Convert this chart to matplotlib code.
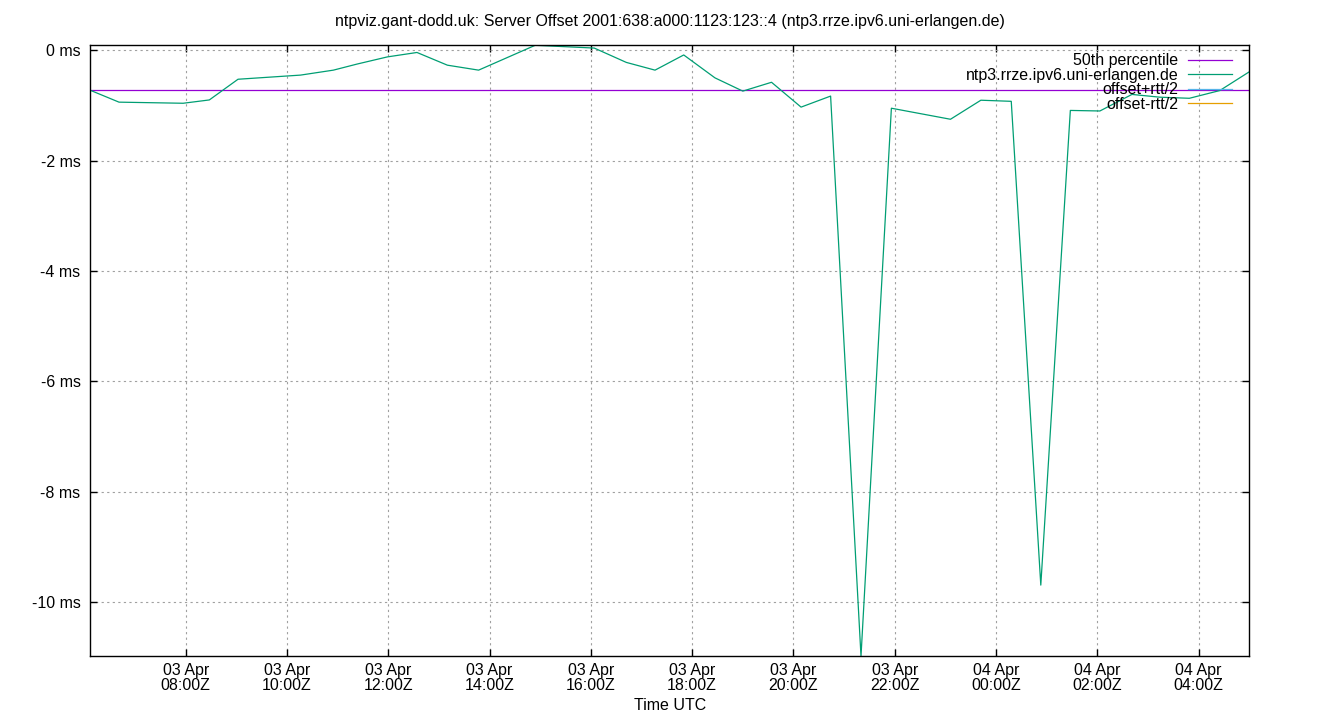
import pandas as pd
import matplotlib
matplotlib.use('Agg')
import matplotlib.pyplot as plt
import matplotlib.dates as mdates
from matplotlib.ticker import FuncFormatter, MultipleLocator

plt.rcParams['font.family'] = ['Liberation Sans', 'DejaVu Sans']
FS = 11.5

# dados (offset em ms)
times = [
    "2025-04-03 06:07", "2025-04-03 06:41", "2025-04-03 07:57", "2025-04-03 08:28",
    "2025-04-03 09:02", "2025-04-03 10:16", "2025-04-03 10:55", "2025-04-03 11:23",
    "2025-04-03 11:59", "2025-04-03 12:34", "2025-04-03 13:10", "2025-04-03 13:47",
    "2025-04-03 14:54", "2025-04-03 16:04", "2025-04-03 16:42", "2025-04-03 17:16",
    "2025-04-03 17:50", "2025-04-03 18:27", "2025-04-03 19:00", "2025-04-03 19:34",
    "2025-04-03 20:09", "2025-04-03 20:44", "2025-04-03 21:20", "2025-04-03 21:56",
    "2025-04-03 23:06", "2025-04-03 23:42", "2025-04-04 00:18", "2025-04-04 00:53",
    "2025-04-04 01:28", "2025-04-04 02:03", "2025-04-04 02:41", "2025-04-04 03:14",
    "2025-04-04 03:49", "2025-04-04 04:25", "2025-04-04 05:00",
]
offsets = [
    -0.725, -0.94, -0.96, -0.90,
    -0.525, -0.45, -0.36, -0.25,
    -0.12, -0.04, -0.27, -0.36,
    0.09, 0.04, -0.22, -0.36,
    -0.085, -0.50, -0.74, -0.58,
    -1.03, -0.83, -10.98, -1.05,
    -1.25, -0.905, -0.925, -9.69,
    -1.09, -1.10, -0.80, -0.85,
    -0.87, -0.73, -0.39,
]
percentile_50 = -0.725

server = "ntp3.rrze.ipv6.uni-erlangen.de"
title = "ntpviz.gant-dodd.uk: Server Offset 2001:638:a000:1123:123::4 (ntp3.rrze.ipv6.uni-erlangen.de)"

t = pd.to_datetime(times)

fig = plt.figure(figsize=(13.4, 7.2), dpi=100)
ax = fig.add_axes([90.3 / 1340, 1 - 656.3 / 720, (1249.3 - 90.3) / 1340, (656.3 - 45.3) / 720])

ax.axhline(percentile_50, color='#9400D3', lw=0.9, label='50th percentile')
ax.plot(t, offsets, color='#009E73', lw=0.9, label=server)
# rtt nao tem dados, so aparece na legenda
ax.plot([], [], color='#56B4E9', lw=0.9, label='offset+rtt/2')
ax.plot([], [], color='#E69F00', lw=0.9, label='offset-rtt/2')

ax.set_xlim(t[0], t[-1])
ax.set_ylim(min(offsets), max(offsets))

ax.xaxis.set_major_locator(mdates.HourLocator(byhour=range(0, 24, 2)))
ax.xaxis.set_major_formatter(mdates.DateFormatter('%d %b\n%H:%MZ'))
ax.yaxis.set_major_locator(MultipleLocator(2))
ax.yaxis.set_major_formatter(FuncFormatter(lambda v, p: '%d ms' % round(v)))

ax.tick_params(direction='in', length=5, width=1, top=True, right=True, labelsize=FS, colors='black')
ax.tick_params(axis='x', pad=5)
ax.tick_params(axis='y', pad=7)
for lab in ax.get_xticklabels():
    lab.set_linespacing(0.95)
for s in ax.spines.values():
    s.set_linewidth(1)

ax.grid(True, color='#a0a0a0', lw=0.8, linestyle=(0, (2, 3)))
ax.set_axisbelow(True)

leg = ax.legend(loc='upper right', bbox_to_anchor=(1 - 17.3 / 1159, 1 - 8 / 611), frameon=False,
                markerfirst=False, fontsize=FS, handlelength=2.75, handletextpad=0.6,
                labelspacing=-0.03, borderpad=0, borderaxespad=0)

fig.text(0.4999, 1 - 21.5 / 720, title, ha='center', va='center', fontsize=FS)
fig.text(669.8 / 1340, 1 - 706 / 720, 'Time UTC', ha='center', va='center', fontsize=FS)

fig.savefig('out.png', dpi=100)
